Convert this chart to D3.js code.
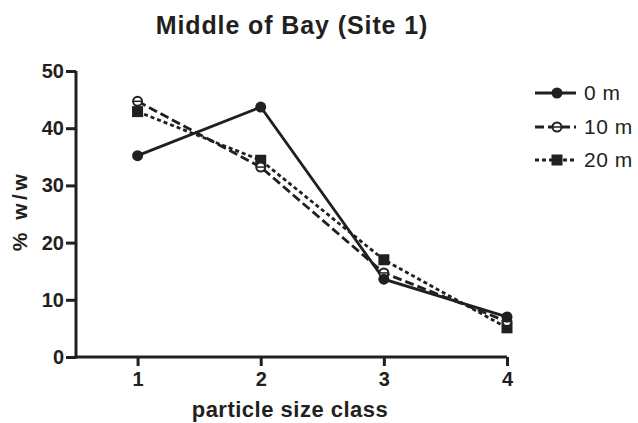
<!DOCTYPE html>
<html><head><meta charset="utf-8">
<script src="https://cdn.jsdelivr.net/npm/d3@7/dist/d3.min.js"></script>
<style>body{margin:0;background:#fff}svg{display:block}text{font-family:"Liberation Sans",Arial,sans-serif;fill:#231f20}</style>
</head><body><svg id="c" width="638" height="423"></svg>
<script>
const categories = [1, 2, 3, 4];
const series0m = [35.2, 43.7, 13.6, 7.0];
const series10m = [44.7, 33.2, 14.7, 6.2];
const series20m = [42.9, 34.4, 17.0, 5.1];
const seriesNames = ["0 m", "10 m", "20 m"];
const yTicks = [0, 10, 20, 30, 40, 50];

const svg = d3.select("#c");
const ink = "#231f20";
const x = d3.scaleLinear().domain([0.5, 4]).range([76, 507]);
const y = d3.scaleLinear().domain([0, 50]).range([357, 71]);

svg.append("text").attr("x", 292).attr("y", 34).attr("text-anchor", "middle")
  .attr("font-size", 25).attr("letter-spacing", 0.9).attr("font-weight", "bold").text("Middle of Bay (Site 1)");

const yAxis = svg.append("g").attr("transform", "translate(76,0)")
  .call(d3.axisLeft(y).tickValues(yTicks).tickSize(10).tickPadding(2).tickFormat(d3.format("d")));
const xAxis = svg.append("g").attr("transform", "translate(0,357)")
  .call(d3.axisBottom(x).tickValues(categories).tickSize(9).tickPadding(6).tickFormat(d3.format("d")));
[yAxis, xAxis].forEach(a => {
  a.select(".domain").attr("stroke", ink).attr("stroke-width", 3);
  a.selectAll(".tick line").attr("stroke", ink).attr("stroke-width", 3);
  a.selectAll(".tick text").attr("font-size", 20).attr("font-weight", "bold").attr("fill", ink)
    .attr("font-family", "Liberation Sans, Arial, sans-serif");
});
yAxis.select(".domain").attr("d", "M0," + y(50) + "V" + (y(0) + 1.5));
xAxis.select(".domain").attr("d", "M" + (76 - 1.5) + ",0H" + x(4));

svg.append("text").attr("transform", "translate(27,211) rotate(-90)").attr("text-anchor", "middle")
  .attr("font-size", 21).attr("letter-spacing", 3.5).attr("font-weight", "bold").text("% w/w");
svg.append("text").attr("x", 290).attr("y", 417).attr("text-anchor", "middle")
  .attr("font-size", 22).attr("letter-spacing", 0.5).attr("font-weight", "bold").text("particle size class");

const defs = [
  {vals: series0m, dash: null, marker: "dot"},
  {vals: series10m, dash: "9,4", marker: "open"},
  {vals: series20m, dash: "4,3", marker: "square"}
];
const line = d3.line().x(d => x(d[0])).y(d => y(d[1]));

function drawMarker(g, type, cx, cy) {
  if (type === "dot") {
    g.append("circle").attr("cx", cx).attr("cy", cy).attr("r", 5.5).attr("fill", ink);
  } else if (type === "open") {
    g.append("circle").attr("cx", cx).attr("cy", cy).attr("r", 4.5).attr("fill", "#fff").attr("stroke", ink).attr("stroke-width", 2);
    g.append("line").attr("x1", cx - 4).attr("x2", cx + 4).attr("y1", cy).attr("y2", cy).attr("stroke", ink).attr("stroke-width", 1.5);
  } else {
    g.append("rect").attr("x", cx - 5.5).attr("y", cy - 5.5).attr("width", 11).attr("height", 11).attr("fill", ink);
  }
}

defs.slice().reverse().forEach(s => {
  const pts = categories.map((c, i) => [c, s.vals[i]]);
  svg.append("path").attr("d", line(pts)).attr("fill", "none").attr("stroke", ink)
    .attr("stroke-width", 2.8).attr("stroke-dasharray", s.dash);
});
defs.slice().reverse().forEach(s => {
  const g = svg.append("g");
  categories.forEach((c, i) => drawMarker(g, s.marker, x(c), y(s.vals[i])));
});

const legY = [93, 127, 160];
defs.forEach((s, i) => {
  const g = svg.append("g");
  g.append("line").attr("x1", 535).attr("x2", 576).attr("y1", legY[i]).attr("y2", legY[i])
    .attr("stroke", ink).attr("stroke-width", 2.8).attr("stroke-dasharray", s.dash);
  drawMarker(g, s.marker, 557, legY[i]);
  g.append("text").attr("x", 584).attr("y", legY[i] + 7).attr("font-size", 21).attr("letter-spacing", 0.5).text(seriesNames[i]);
});
</script></body></html>
